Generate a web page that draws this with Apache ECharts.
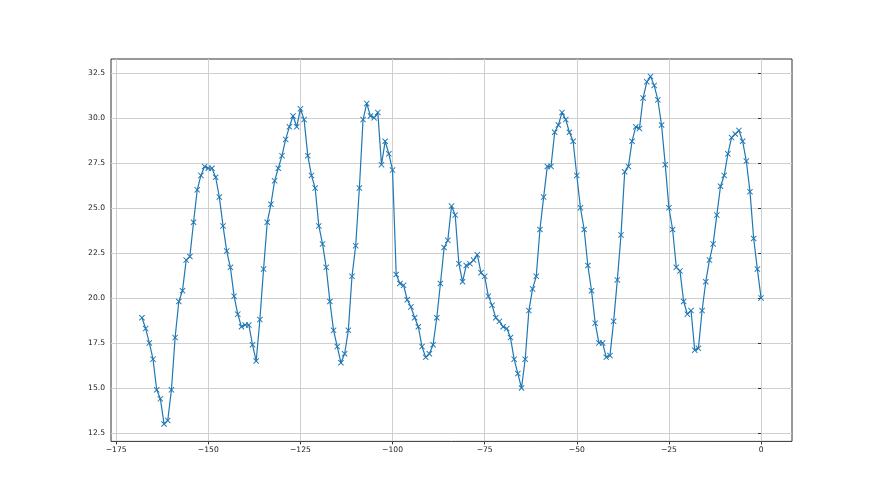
<!DOCTYPE html>
<html><head><meta charset="utf-8">
<script src="https://cdn.jsdelivr.net/npm/echarts@6/dist/echarts.min.js"></script>
<style>html,body{margin:0;padding:0;background:#fff}#c{width:880px;height:495px}</style>
</head><body><div id="c"></div>
<script>
const xValues = [
 -168,-167,-166,-165,-164,-163,-162,-161,-160,-159,
 -158,-157,-156,-155,-154,-153,-152,-151,-150,-149,
 -148,-147,-146,-145,-144,-143,-142,-141,-140,-139,
 -138,-137,-136,-135,-134,-133,-132,-131,-130,-129,
 -128,-127,-126,-125,-124,-123,-122,-121,-120,-119,
 -118,-117,-116,-115,-114,-113,-112,-111,-110,-109,
 -108,-107,-106,-105,-104,-103,-102,-101,-100,-99,
 -98,-97,-96,-95,-94,-93,-92,-91,-90,-89,
 -88,-87,-86,-85,-84,-83,-82,-81,-80,-79,
 -78,-77,-76,-75,-74,-73,-72,-71,-70,-69,
 -68,-67,-66,-65,-64,-63,-62,-61,-60,-59,
 -58,-57,-56,-55,-54,-53,-52,-51,-50,-49,
 -48,-47,-46,-45,-44,-43,-42,-41,-40,-39,
 -38,-37,-36,-35,-34,-33,-32,-31,-30,-29,
 -28,-27,-26,-25,-24,-23,-22,-21,-20,-19,
 -18,-17,-16,-15,-14,-13,-12,-11,-10,-9,
 -8,-7,-6,-5,-4,-3,-2,-1,0
];
const yValues = [
 18.9, 18.3, 17.5, 16.6, 14.9, 14.4, 13.0, 13.2, 14.9, 17.8,
 19.8, 20.4, 22.1, 22.3, 24.2, 26.0, 26.8, 27.3, 27.2, 27.2,
 26.7, 25.6, 24.0, 22.6, 21.7, 20.1, 19.1, 18.4, 18.5, 18.5,
 17.4, 16.5, 18.8, 21.6, 24.2, 25.2, 26.5, 27.2, 27.9, 28.8,
 29.5, 30.1, 29.5, 30.5, 29.9, 27.9, 26.8, 26.1, 24.0, 23.0,
 21.7, 19.8, 18.2, 17.3, 16.4, 16.9, 18.2, 21.2, 22.9, 26.1,
 29.9, 30.8, 30.1, 30.0, 30.3, 27.4, 28.7, 28.0, 27.1, 21.3,
 20.8, 20.7, 19.9, 19.5, 18.9, 18.4, 17.3, 16.7, 16.9, 17.4,
 18.9, 20.8, 22.8, 23.2, 25.1, 24.6, 21.9, 20.9, 21.8, 21.9,
 22.1, 22.4, 21.4, 21.2, 20.1, 19.6, 18.9, 18.7, 18.4, 18.3,
 17.8, 16.6, 15.8, 15.0, 16.6, 19.3, 20.5, 21.2, 23.8, 25.6,
 27.3, 27.3, 29.2, 29.6, 30.3, 29.9, 29.2, 28.7, 26.8, 25.0,
 23.8, 21.8, 20.4, 18.6, 17.5, 17.5, 16.7, 16.8, 18.7, 21.0,
 23.5, 27.0, 27.3, 28.7, 29.5, 29.4, 31.1, 32.0, 32.3, 31.8,
 31.0, 29.6, 27.4, 25.0, 23.8, 21.7, 21.5, 19.8, 19.1, 19.3,
 17.1, 17.2, 19.3, 20.9, 22.1, 23.0, 24.6, 26.2, 26.8, 28.0,
 28.9, 29.1, 29.3, 28.7, 27.6, 25.9, 23.3, 21.6, 20.0
];
const xTicks = [-175, -150, -125, -100, -75, -50, -25, 0];
const yTicks = [12.5, 15, 17.5, 20, 22.5, 25, 27.5, 30, 32.5];

const points = xValues.map((x, i) => [x, yValues[i]]);
function pad(arr) {
  const lo = Math.min(...arr), hi = Math.max(...arr), m = (hi - lo) * 0.05;
  return [lo - m, hi + m];
}
const [xMin, xMax] = pad(xValues);
const [yMin, yMax] = pad(yValues);

const BLUE = '#1f77b4';
const FONT = 'DejaVu Sans';
const xMarker = 'path://M0,1.1L1.1,0L5,3.9L8.9,0L10,1.1L6.1,5L10,8.9L8.9,10L5,6.1L1.1,10L0,8.9L3.9,5Z';

const chart = echarts.init(document.getElementById('c'), null, {renderer: 'canvas'});
chart.setOption({
  animation: false,
  backgroundColor: '#ffffff',
  grid: {
    left: 111, top: 59, right: 88, bottom: 53.6,
    show: true, borderColor: '#333', borderWidth: 1, backgroundColor: 'transparent',
    containLabel: false, outerBoundsMode: 'none'
  },
  xAxis: {
    type: 'value', min: xMin, max: xMax,
    axisLine: {show: false},
    axisTick: {show: true, inside: false, length: 3, customValues: xTicks, lineStyle: {color: '#333', width: 1}},
    axisLabel: {
      customValues: xTicks, margin: 5, color: '#222', fontFamily: FONT, fontSize: 7.6,
      formatter: v => v < 0 ? '\u2212' + (-v) : String(v)
    },
    splitLine: {show: true, lineStyle: {color: '#cfcfcf', width: 1}}
  },
  yAxis: {
    type: 'value', min: yMin, max: yMax,
    axisLine: {show: false},
    axisTick: {show: true, inside: false, length: 3, customValues: yTicks, lineStyle: {color: '#333', width: 1}},
    axisLabel: {
      customValues: yTicks, margin: 6, color: '#222', fontFamily: FONT, fontSize: 7.6,
      formatter: v => Number(v).toFixed(1)
    },
    splitLine: {show: true, lineStyle: {color: '#cfcfcf', width: 1}}
  },
  series: [{
    type: 'line',
    data: points,
    symbol: xMarker,
    symbolSize: 6,
    showSymbol: true,
    showAllSymbol: true,
    itemStyle: {color: BLUE},
    lineStyle: {color: BLUE, width: 1.2},
    emphasis: {disabled: true}
  }]
});
</script>
</body></html>
